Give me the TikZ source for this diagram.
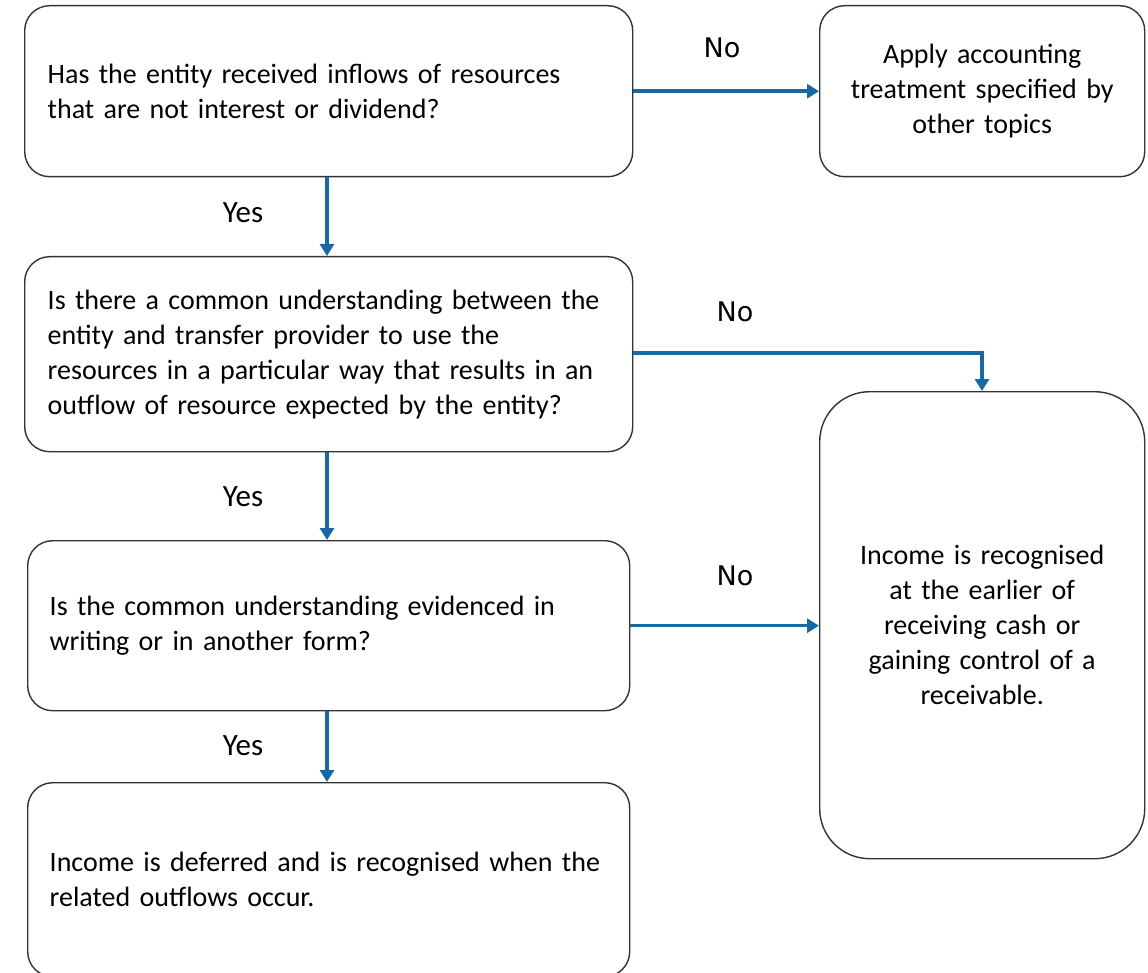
\documentclass[tikz,border=0pt]{standalone}
\usepackage{fontspec}
\setmainfont{Carlito}
\newfontfamily\nofont{DejaVu Sans}
\usetikzlibrary{arrows.meta}
\definecolor{flowblue}{RGB}{24,104,164}
\begin{document}
\begin{tikzpicture}[x=1pt,y=-1pt,
  box/.style={draw=black!80, line width=1.4pt, rounded corners=25pt, inner ysep=0pt,
    font=\fontsize{28}{35}\selectfont, anchor=north west},
  lbox/.style={box, align=left, inner xsep=23pt},
  cbox/.style={box, align=center, inner xsep=10pt},
  flow/.style={draw=flowblue, line width=3.5pt, -{Triangle[width=14pt,length=12pt]}},
  nolab/.style={font=\nofont\fontsize{27}{30}\selectfont},
  yeslab/.style={font=\fontsize{31}{34}\selectfont}]
\useasboundingbox (0,0) rectangle (1148,973);
\begin{scope}
\clip (0,0) rectangle (1148,973);
\node[lbox, text width=562pt, minimum height=171pt] (q1) at (24,5)
  {\mbox{Has the entity received inflows of resources}\\\mbox{that are not interest or dividend?}};
\node[cbox, text width=305pt, minimum height=171pt] (other) at (819,5)
  {\mbox{Apply accounting}\\\mbox{treatment specified by}\\\mbox{other topics}};
\node[lbox, text width=562pt, minimum height=195pt] (q2) at (24,256)
  {\mbox{Is there a common understanding between the}\\\mbox{entity and transfer provider to use the}\\\mbox{resources in a particular way that results in an}\\\mbox{outflow of resource expected by the entity?}};
\node[cbox, rounded corners=50pt, text width=305pt, minimum height=467pt] (inc) at (819,391)
  {\mbox{Income is recognised}\\\mbox{at the earlier of}\\\mbox{receiving cash or}\\\mbox{gaining control of a}\\\mbox{receivable.}};
\node[lbox, inner xsep=22pt, text width=558pt, minimum height=170pt] (q3) at (27,540)
  {\mbox{Is the common understanding evidenced in}\\\mbox{writing or in another form?}};
\node[lbox, inner xsep=22pt, text width=558pt, minimum height=194pt] (def) at (27,782)
  {\mbox{Income is deferred and is recognised when the}\\\mbox{related outflows occur.}};
\end{scope}
\coordinate (c1) at (982,353);
\draw[flow] (q1.east) -- (other.west);
\draw[flow] (q1.south -| 327,0) -- (q2.north -| 327,0);
\draw[flow] (q2.east |- c1) -- (c1) -- (inc.north -| c1);
\draw[flow] (q2.south -| 327,0) -- (q3.north -| 327,0);
\draw[flow] (q3.east) -- (inc.west |- q3.east);
\draw[flow] (q3.south -| 327,0) -- (def.north -| 327,0);
\node[nolab] (no1) at (722,48) {No};
\node[nolab] (no2) at (735,312) {No};
\node[nolab] (no3) at (735,576) {No};
\node[yeslab] (y1) at (243,213) {Yes};
\node[yeslab] (y2) at (243,497) {Yes};
\node[yeslab] (y3) at (243,746) {Yes};
\end{tikzpicture}
\end{document}
